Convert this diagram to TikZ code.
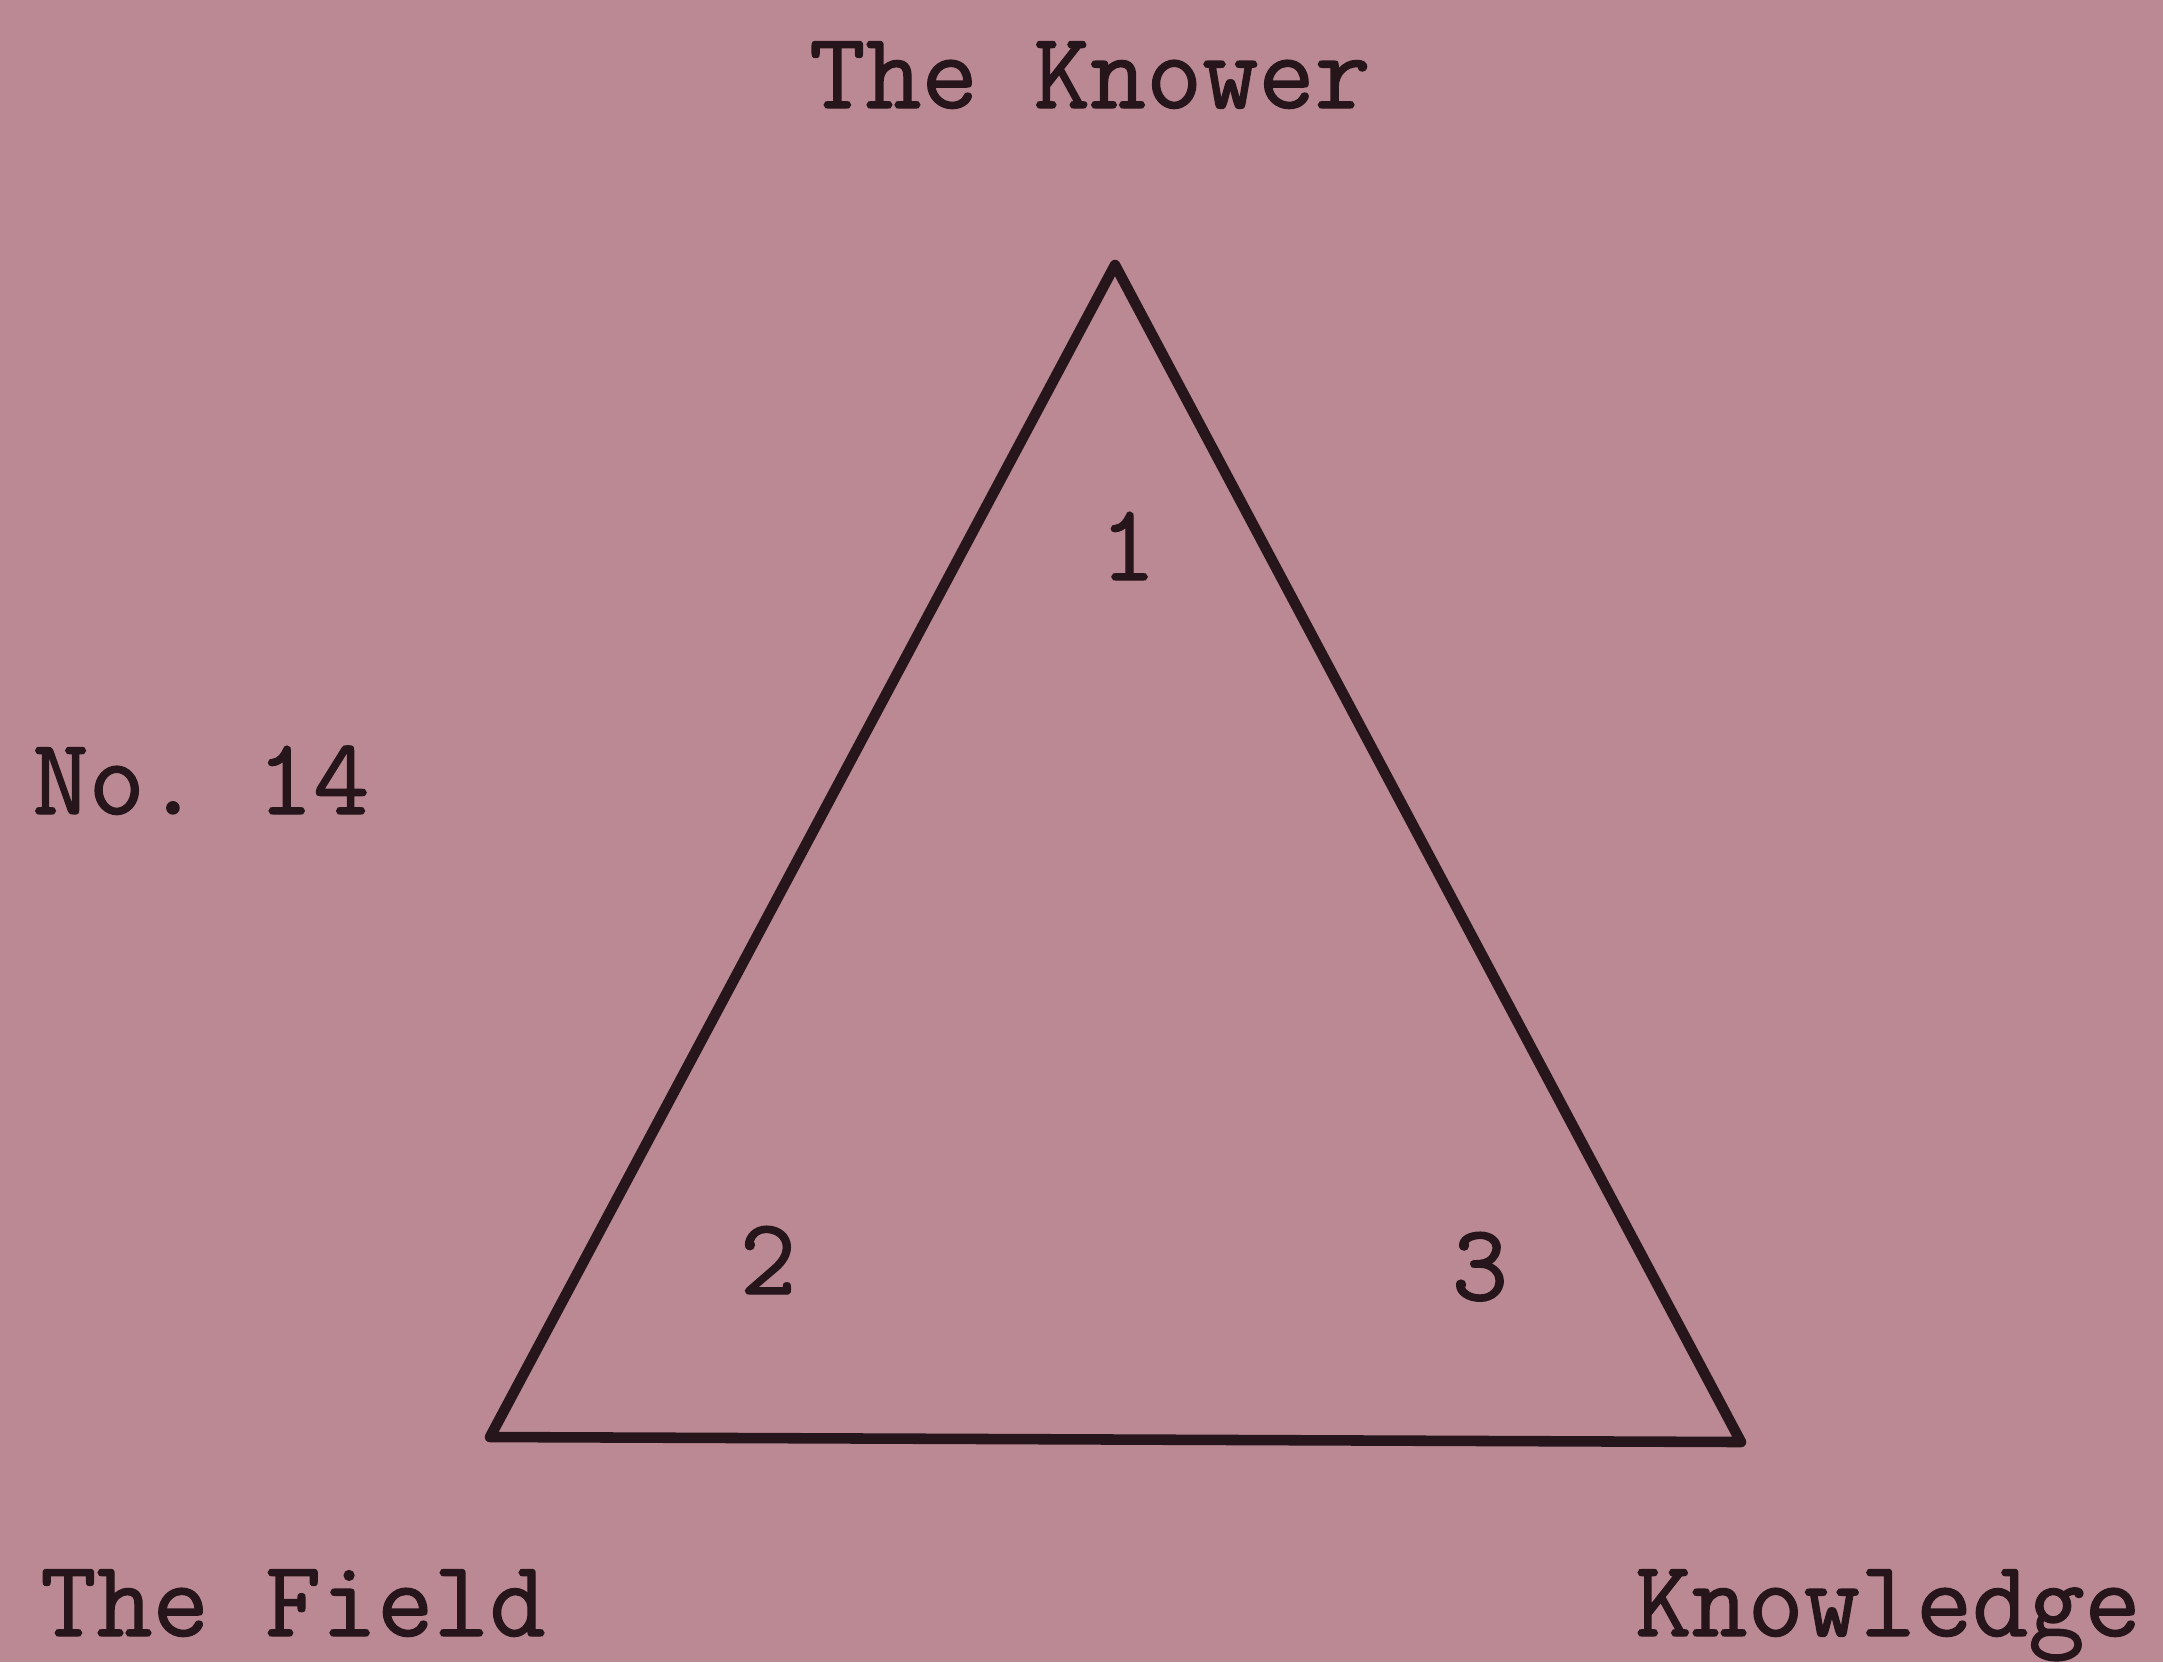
\documentclass[tikz,border=0pt]{standalone}
\usepackage{fontspec}
\setmonofont{Latin Modern Mono}[FakeBold=1.2]
\definecolor{paper}{RGB}{186,137,148}
\definecolor{ink}{RGB}{38,22,28}
\begin{document}
\begin{tikzpicture}[x=0.01cm,y=-0.01cm,
  lab/.style={inner sep=0pt,anchor=base,text=ink,font=\ttfamily\fontsize{31}{31}\selectfont},
  edge/.style={draw=ink,line width=3pt,line join=round,line cap=round}]
\fill[paper] (0,0) rectangle (2163,1662);
\useasboundingbox (0,0) rectangle (2163,1662);
\coordinate (A) at (1115,265);
\coordinate (B) at (490,1437);
\coordinate (C) at (1741,1442);
\draw[edge] (A) -- (B) -- (C) -- cycle;
\node[lab] (knower) at (1090,108) {The Knower};
\node[lab] (no) at (201,814) {No. 14};
\node[lab] (field) at (293,1636) {The Field};
\node[lab] (know) at (1888,1636) {Knowledge};
\node[lab] (one) at (1128,580) {1};
\node[lab] (two) at (768,1294) {2};
\node[lab] (three) at (1480,1300) {3};
\end{tikzpicture}
\end{document}
